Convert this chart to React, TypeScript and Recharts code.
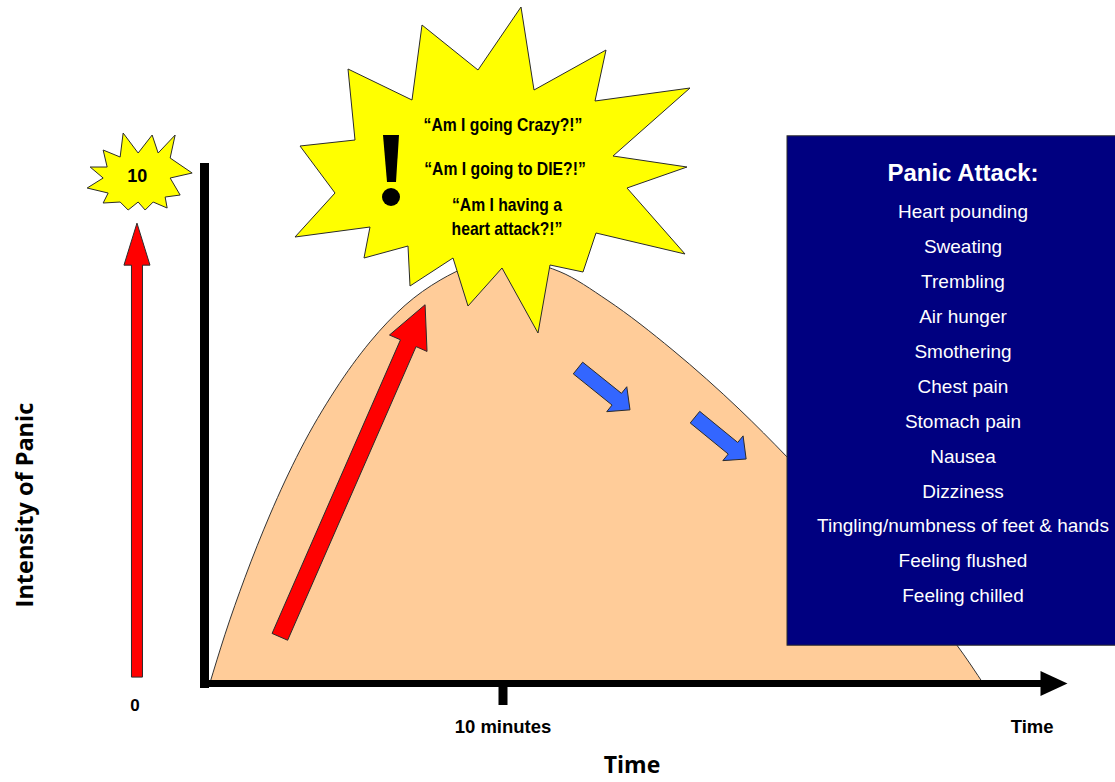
import React from "react";
import {
  ComposedChart,
  Area,
  XAxis,
  YAxis,
  ReferenceLine,
  ReferenceDot,
  ReferenceArea,
} from "recharts";

// panic curve: minutes vs intensity (0-10)
const curveMinutes = [
  0, 0.54, 1.22, 2.07, 3.1, 4.29, 5.48, 6.67, 7.86, 8.88, 9.9, 10.92,
  11.94, 13.54, 15.78, 18.06, 19.66, 21.12, 22.48, 23.84, 25.44, 26.39,
];
const curveIntensity = [
  0, 0.98, 2.07, 3.27, 4.51, 5.66, 6.58, 7.28, 7.76, 8.03, 8.13, 8.09,
  7.92, 7.38, 6.42, 5.28, 4.38, 3.5, 2.68, 1.82, 0.78, 0,
];

const timeTicks = [10, 28];
const timeTickLabels = ["10 minutes", "Time"];

const scaleLabels = ["0", "10"];

const worries = [
  "\u201CAm I going Crazy?!\u201D",
  "\u201CAm I going to DIE?!\u201D",
  "\u201CAm I having a",
  "heart attack?!\u201D",
];

const symptomsTitle = "Panic Attack:";
const symptoms = [
  "Heart pounding",
  "Sweating",
  "Trembling",
  "Air hunger",
  "Smothering",
  "Chest pain",
  "Stomach pain",
  "Nausea",
  "Dizziness",
  "Tingling/numbness of feet & hands",
  "Feeling flushed",
  "Feeling chilled",
];

const curve = curveMinutes.map((t, i) => ({ t, v: curveIntensity[i] }));

const ARIAL = "'Liberation Sans', Arial, sans-serif";
const CALIBRI = "'Open Sans', Lato, sans-serif";
const OUTLINE = "#2b2b2b";

// starburst outlines, pixel offsets from their anchor
const bigBurst = [
  [18, -156], [31, -73], [103, -113], [92, -62], [187, -75], [110, -7],
  [184, 4], [124, 25], [182, 91], [93, 70], [80, 109], [47, 102],
  [35, 170], [-1, 105], [-35, 143], [-50, 95], [-93, 123], [-95, 83],
  [-139, 95], [-133, 64], [-208, 74], [-168, 30], [-203, -17], [-148, -23],
  [-155, -94], [-91, -63], [-81, -138], [-25, -93],
];
const smallBurst = [
  [-15, -42], [0, -22], [14, -40], [20, -22], [37, -40], [32, -17],
  [54, -2], [32, 3], [42, 20], [27, 22], [29, 33], [15, 27],
  [7, 35], [0, 27], [-10, 35], [-18, 27], [-35, 28], [-30, 18],
  [-51, 13], [-35, 3], [-48, -8], [-31, -8], [-35, -25], [-18, -18],
];

function pts(list: number[][], cx: number, cy: number) {
  return list.map(([dx, dy]) => `${cx + dx},${cy + dy}`).join(" ");
}

function blockArrow(x1: number, y1: number, x2: number, y2: number, shaft: number, head: number, headLen: number) {
  const len = Math.hypot(x2 - x1, y2 - y1);
  const ux = (x2 - x1) / len;
  const uy = (y2 - y1) / len;
  const nx = -uy;
  const ny = ux;
  const bx = x2 - ux * headLen;
  const by = y2 - uy * headLen;
  return [
    [x1 + (nx * shaft) / 2, y1 + (ny * shaft) / 2],
    [bx + (nx * shaft) / 2, by + (ny * shaft) / 2],
    [bx + (nx * head) / 2, by + (ny * head) / 2],
    [x2, y2],
    [bx - (nx * head) / 2, by - (ny * head) / 2],
    [bx - (nx * shaft) / 2, by - (ny * shaft) / 2],
    [x1 - (nx * shaft) / 2, y1 - (ny * shaft) / 2],
  ]
    .map((p) => p.join(","))
    .join(" ");
}

function arrowShape(fill: string, shaft: number, head: number, headLen: number) {
  return (p: any) => (
    <polygon
      points={blockArrow(p.x1, p.y1, p.x2, p.y2, shaft, head, headLen)}
      fill={fill}
      stroke={OUTLINE}
      strokeWidth={1}
    />
  );
}

function TimeTick({ x, y, payload }: any) {
  const i = timeTicks.indexOf(payload.value);
  return (
    <g>
      {i === 0 && <rect x={x - 4.5} y={y - 3} width={9} height={22} fill="#000" />}
      <text
        x={x}
        y={y + 40}
        textAnchor="middle"
        dominantBaseline="central"
        fontFamily={ARIAL}
        fontWeight="bold"
        fontSize={18.5}
        fill="#000"
      >
        {timeTickLabels[i]}
      </text>
    </g>
  );
}

function BigBurst({ cx, cy }: any) {
  const lineX = [0, 2, 4, 4];
  const lineY = [-38, 6, 42, 66];
  return (
    <g>
      <polygon points={pts(bigBurst, cx, cy)} fill="#FFFF00" stroke={OUTLINE} strokeWidth={1} />
      <polygon
        points={pts([[-120, -28], [-104, -28], [-107, 19], [-116, 19]], cx, cy)}
        fill="#000"
      />
      <circle cx={cx - 112} cy={cy + 34} r={9} fill="#000" />
      {worries.map((w, i) => (
        <g key={w} transform={`translate(${cx + lineX[i]},${cy + lineY[i]}) scale(0.85,1)`}>
          <text
            x={0}
            y={0}
            textAnchor="middle"
            dominantBaseline="central"
            fontFamily={ARIAL}
            fontWeight="bold"
            fontSize={18.5}
            fill="#000"
          >
            {w}
          </text>
        </g>
      ))}
    </g>
  );
}

function SmallBurst({ cx, cy }: any) {
  return (
    <g>
      <polygon points={pts(smallBurst, cx, cy)} fill="#FFFF00" stroke={OUTLINE} strokeWidth={1} />
      <text
        x={cx - 1}
        y={cy + 1}
        textAnchor="middle"
        dominantBaseline="central"
        fontFamily={ARIAL}
        fontWeight="bold"
        fontSize={18}
        fill="#000"
      >
        {scaleLabels[1]}
      </text>
    </g>
  );
}

function SymptomBox({ x, y, width, height }: any) {
  const mid = x + 176;
  return (
    <g>
      <rect x={x} y={y} width={width} height={height} fill="#000080" stroke={OUTLINE} strokeWidth={1} />
      <text
        x={mid}
        y={y + 37}
        textAnchor="middle"
        dominantBaseline="central"
        fontFamily={ARIAL}
        fontWeight="bold"
        fontSize={24}
        fill="#fff"
      >
        {symptomsTitle}
      </text>
      {symptoms.map((s, i) => (
        <text
          key={s}
          x={mid}
          y={y + 76 + i * 34.9}
          textAnchor="middle"
          dominantBaseline="central"
          fontFamily={ARIAL}
          fontSize={19}
          fill="#fff"
        >
          {s}
        </text>
      ))}
    </g>
  );
}

function YAxisBar(p: any) {
  return <rect x={p.x1 - 9} y={p.y2} width={9} height={p.y1 - p.y2 + 2} fill="#000" />;
}

function XAxisArrow(p: any) {
  const hx = p.x2 - 27;
  return (
    <g>
      <rect x={p.x1 - 9} y={p.y1 - 6} width={hx - p.x1 + 10} height={7} fill="#000" />
      <polygon points={`${hx},${p.y1 - 15} ${p.x2},${p.y1 - 2.5} ${hx},${p.y1 + 10}`} fill="#000" />
    </g>
  );
}

export default function App() {
  return (
    <div style={{ position: "absolute", left: 0, top: 0, width: 1115, height: 782, background: "#fff" }}>
      <ComposedChart
        width={1115}
        height={782}
        data={curve}
        margin={{ top: 163, right: 24, bottom: 0, left: 209 }}
      >
        <XAxis
          type="number"
          dataKey="t"
          domain={[0, 30]}
          ticks={timeTicks}
          interval={0}
          axisLine={false}
          tickLine={false}
          tickSize={0}
          tickMargin={0}
          height={96}
          tick={<TimeTick />}
          label={{
            value: "Time",
            position: "insideBottom",
            offset: 9,
            dx: -18,
            style: { fontFamily: CALIBRI, fontWeight: "bold", fontSize: 23, fill: "#000" },
          }}
        />
        <YAxis type="number" domain={[0, 10]} hide />
        <Area
          type="monotone"
          dataKey="v"
          stroke="#333333"
          strokeWidth={1}
          fill="#FFCC99"
          fillOpacity={1}
          isAnimationActive={false}
        />
        <ReferenceLine
          segment={[{ x: 0, y: 0 }, { x: 0, y: 10 }]}
          ifOverflow="visible"
          shape={YAxisBar}
        />
        <ReferenceLine
          segment={[{ x: 0, y: 0 }, { x: 29.2, y: 0 }]}
          ifOverflow="visible"
          shape={XAxisArrow}
        />
        <ReferenceLine
          segment={[{ x: -2.45, y: 0.17 }, { x: -2.45, y: 8.85 }]}
          ifOverflow="visible"
          shape={arrowShape("#FF0000", 11, 26, 42)}
        />
        <ReferenceLine
          segment={[{ x: 2.41, y: 0.94 }, { x: 7.35, y: 7.29 }]}
          ifOverflow="visible"
          shape={arrowShape("#FF0000", 17, 41, 42)}
        />
        <ReferenceLine
          segment={[{ x: 12.55, y: 6.08 }, { x: 14.32, y: 5.28 }]}
          ifOverflow="visible"
          shape={arrowShape("#3366FF", 15, 32, 17)}
        />
        <ReferenceLine
          segment={[{ x: 16.53, y: 5.14 }, { x: 18.27, y: 4.34 }]}
          ifOverflow="visible"
          shape={arrowShape("#3366FF", 15, 32, 17)}
        />
        <ReferenceArea
          x1={19.66}
          x2={31}
          y1={0.78}
          y2={10.52}
          ifOverflow="visible"
          shape={SymptomBox}
        />
        <ReferenceDot x={10} y={10} ifOverflow="visible" shape={BigBurst} />
        <ReferenceDot x={-2.41} y={9.77} ifOverflow="visible" shape={SmallBurst} />
        <ReferenceDot
          x={-2.52}
          y={-0.38}
          ifOverflow="visible"
          shape={(p: any) => (
            <text
              x={p.cx}
              y={p.cy}
              textAnchor="middle"
              dominantBaseline="central"
              fontFamily={ARIAL}
              fontWeight="bold"
              fontSize={17}
              fill="#000"
            >
              {scaleLabels[0]}
            </text>
          )}
        />
        <ReferenceDot
          x={-6.29}
          y={3.46}
          ifOverflow="visible"
          shape={(p: any) => (
            <text
              x={p.cx}
              y={p.cy}
              transform={`rotate(-90 ${p.cx} ${p.cy})`}
              textAnchor="middle"
              dominantBaseline="central"
              fontFamily={CALIBRI}
              fontWeight="bold"
              fontSize={23.5}
              fill="#000"
            >
              Intensity of Panic
            </text>
          )}
        />
      </ComposedChart>
    </div>
  );
}
